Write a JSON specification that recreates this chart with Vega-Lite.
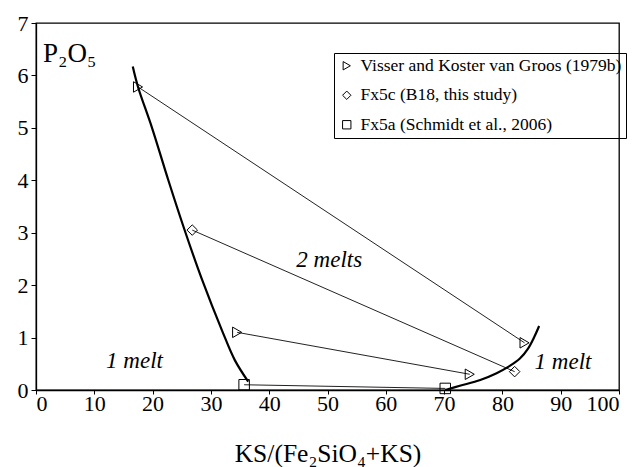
{
  "$schema": "https://vega.github.io/schema/vega-lite/v6.json",
  "width": 583,
  "height": 367,
  "autosize": "none",
  "padding": {"left": 36, "top": 23, "right": 20, "bottom": 77},
  "background": "white",
  "config": {
    "font": "Liberation Serif",
    "view": {"stroke": "black", "strokeWidth": 1.3},
    "axis": {"grid": false, "domainColor": "black", "domainWidth": 1.3, "tickColor": "black", "labelColor": "black", "labelFont": "Liberation Serif", "titleFont": "Liberation Serif", "titleColor": "black", "titleFontWeight": "normal"},
    "legend": {"labelFont": "Liberation Serif"},
    "text": {"font": "Liberation Serif"}
  },
  "datasets": {
    "ties": [
      {"id": "t1", "x": 17.5, "y": 5.78},
      {"id": "t1", "x": 83.8, "y": 0.9},
      {"id": "t2", "x": 26.8, "y": 3.05},
      {"id": "t2", "x": 82.1, "y": 0.35},
      {"id": "t3", "x": 34.5, "y": 1.1},
      {"id": "t3", "x": 74.4, "y": 0.3},
      {"id": "t4", "x": 35.7, "y": 0.1},
      {"id": "t4", "x": 70.2, "y": 0.03}
    ],
    "curves": [
      {"id": "L", "x": 16.6, "y": 6.17},
      {"id": "L", "x": 17.5, "y": 5.78},
      {"id": "L", "x": 19.9, "y": 5.0},
      {"id": "L", "x": 22.7, "y": 4.0},
      {"id": "L", "x": 25.4, "y": 3.08},
      {"id": "L", "x": 28.5, "y": 2.1},
      {"id": "L", "x": 32.0, "y": 1.11},
      {"id": "L", "x": 34.1, "y": 0.57},
      {"id": "L", "x": 36.4, "y": 0.16},
      {"id": "R", "x": 70.2, "y": 0.0},
      {"id": "R", "x": 72.7, "y": 0.08},
      {"id": "R", "x": 76.2, "y": 0.19},
      {"id": "R", "x": 79.0, "y": 0.32},
      {"id": "R", "x": 81.0, "y": 0.44},
      {"id": "R", "x": 83.0, "y": 0.6},
      {"id": "R", "x": 84.4, "y": 0.79},
      {"id": "R", "x": 85.5, "y": 1.02},
      {"id": "R", "x": 86.3, "y": 1.22}
    ],
    "points": [
      {"series": "Visser and Koster van Groos (1979b)", "x": 17.5, "y": 5.78},
      {"series": "Visser and Koster van Groos (1979b)", "x": 83.8, "y": 0.9},
      {"series": "Visser and Koster van Groos (1979b)", "x": 34.5, "y": 1.1},
      {"series": "Visser and Koster van Groos (1979b)", "x": 74.4, "y": 0.3},
      {"series": "Fx5c (B18, this study)", "x": 26.8, "y": 3.05},
      {"series": "Fx5c (B18, this study)", "x": 82.1, "y": 0.35},
      {"series": "Fx5a (Schmidt et al., 2006)", "x": 35.7, "y": 0.1},
      {"series": "Fx5a (Schmidt et al., 2006)", "x": 70.2, "y": 0.03}
    ],
    "labels": [
      {"text": "1 melt", "x": 16.9, "y": 0.55},
      {"text": "2 melts", "x": 50.3, "y": 2.48},
      {"text": "1 melt", "x": 90.4, "y": 0.54}
    ],
    "title": [
      {"text": "P₂O₅", "x": 1.2, "y": 6.25}
    ]
  },
  "layer": [
    {
      "data": {"name": "ties"},
      "mark": {"type": "line", "color": "#222", "strokeWidth": 1},
      "encoding": {
        "x": {"field": "x", "type": "quantitative", "scale": {"domain": [0, 100]}, "axis": {"values": [0,10,20,30,40,50,60,70,80,90,100], "format": "d", "tickSize": 4, "labelFontSize": 22, "labelPadding": -1, "title": "KS/(Fe₂SiO₄+KS)", "titleFontSize": 25.5, "titleBaseline": "alphabetic", "titleY": 71}},
        "y": {"field": "y", "type": "quantitative", "scale": {"domain": [0, 7]}, "axis": {"values": [0,1,2,3,4,5,6,7], "format": "d", "tickSize": 5, "labelFontSize": 22, "labelPadding": 3, "title": null}},
        "detail": {"field": "id"}
      }
    },
    {
      "data": {"name": "curves"},
      "mark": {"type": "line", "color": "black", "strokeWidth": 2.2, "interpolate": "catmull-rom"},
      "encoding": {
        "x": {"field": "x", "type": "quantitative"},
        "y": {"field": "y", "type": "quantitative"},
        "detail": {"field": "id"}
      }
    },
    {
      "data": {"name": "points"},
      "mark": {"type": "point", "filled": false, "color": "black", "opacity": 1, "strokeWidth": 1, "size": 110},
      "encoding": {
        "x": {"field": "x", "type": "quantitative"},
        "y": {"field": "y", "type": "quantitative"},
        "shape": {
          "field": "series",
          "type": "nominal",
          "scale": {"domain": ["Visser and Koster van Groos (1979b)", "Fx5c (B18, this study)", "Fx5a (Schmidt et al., 2006)"], "range": ["triangle-right", "diamond", "square"]},
          "legend": {"title": null, "orient": "none", "legendX": 298, "legendY": 30, "strokeColor": "black", "padding": 4, "labelFontSize": 17.5, "labelColor": "black", "symbolSize": 70, "symbolStrokeColor": "black", "symbolStrokeWidth": 1, "rowPadding": 10.5, "labelOffset": 5, "labelLimit": 400}
        }
      }
    },
    {
      "data": {"name": "labels"},
      "mark": {"type": "text", "fontStyle": "italic", "fontSize": 23, "color": "black", "align": "center", "baseline": "middle"},
      "encoding": {
        "x": {"field": "x", "type": "quantitative"},
        "y": {"field": "y", "type": "quantitative"},
        "text": {"field": "text"}
      }
    },
    {
      "data": {"name": "title"},
      "mark": {"type": "text", "fontSize": 27, "color": "black", "align": "left", "baseline": "alphabetic"},
      "encoding": {
        "x": {"field": "x", "type": "quantitative"},
        "y": {"field": "y", "type": "quantitative"},
        "text": {"field": "text"}
      }
    }
  ]
}
